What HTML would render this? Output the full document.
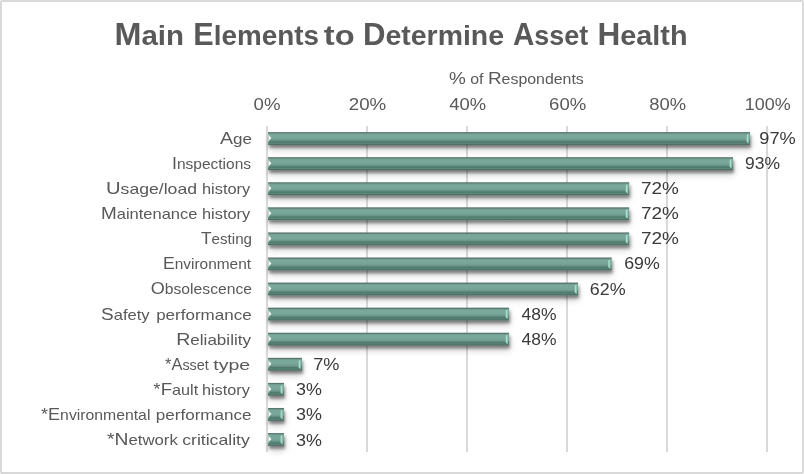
<!DOCTYPE html><html><head><meta charset="utf-8"><style>
html,body{margin:0;padding:0;background:#fff;}
svg{display:block;}
text{font-family:"Liberation Sans", "DejaVu Sans", sans-serif;}
</style></head><body>
<svg width="804" height="474" viewBox="0 0 804 474">
<defs>
<linearGradient id="bg" x1="0" y1="0" x2="0" y2="1">
 <stop offset="0" stop-color="#53706a"/>
 <stop offset="0.07" stop-color="#5a7a72"/>
 <stop offset="0.12" stop-color="#719a8d"/>
 <stop offset="0.22" stop-color="#7aa99b"/>
 <stop offset="0.45" stop-color="#78a799"/>
 <stop offset="0.6" stop-color="#6f9c8e"/>
 <stop offset="0.7" stop-color="#5d897b"/>
 <stop offset="0.76" stop-color="#4f796c"/>
 <stop offset="0.83" stop-color="#527d70"/>
 <stop offset="0.88" stop-color="#5e8a7d"/>
 <stop offset="0.93" stop-color="#4d7166"/>
 <stop offset="1" stop-color="#46665c"/>
</linearGradient>
<linearGradient id="rb" x1="0" y1="0" x2="1" y2="0">
 <stop offset="0" stop-color="#8ec2b2"/>
 <stop offset="0.3" stop-color="#b4e2d3"/>
 <stop offset="1" stop-color="#7fb4a4"/>
</linearGradient>
<filter id="sh" filterUnits="userSpaceOnUse" x="0" y="0" width="804" height="474">
 <feGaussianBlur in="SourceAlpha" stdDeviation="1.8" result="b1"/>
 <feOffset in="b1" dx="0.5" dy="2.6" result="o1"/>
 <feComponentTransfer in="o1" result="s1"><feFuncA type="linear" slope="0.42"/></feComponentTransfer>
 <feGaussianBlur in="SourceAlpha" stdDeviation="3.5" result="b2"/>
 <feOffset in="b2" dx="0.5" dy="4.5" result="o2"/>
 <feComponentTransfer in="o2" result="s2"><feFuncA type="linear" slope="0.18"/></feComponentTransfer>
 <feMerge><feMergeNode in="s2"/><feMergeNode in="s1"/><feMergeNode in="SourceGraphic"/></feMerge>
</filter>
</defs>
<rect x="1" y="1" width="802" height="472" rx="1" fill="#fff" stroke="#d9d9d9" stroke-width="2"/>
<rect x="266" y="126" width="2" height="326" fill="#d9d9d9"/>
<rect x="366" y="126" width="2" height="326" fill="#d9d9d9"/>
<rect x="466" y="126" width="2" height="326" fill="#d9d9d9"/>
<rect x="566" y="126" width="2" height="326" fill="#d9d9d9"/>
<rect x="666" y="126" width="2" height="326" fill="#d9d9d9"/>
<rect x="766" y="126" width="2" height="326" fill="#d9d9d9"/>
<g filter="url(#sh)"><rect x="268.0" y="132.10" width="482.0" height="12.8" fill="url(#bg)"/></g>
<polygon points="746.4,135.10 748.9,133.50 748.9,143.50 746.4,141.70" fill="url(#rb)"/>
<polygon points="268.0,133.30 269.2,134.50 269.2,141.70 268.0,142.90" fill="#9ccbbb" opacity="0.8"/>
<polygon points="268.6,135.10 271.4,138.10 268.6,141.10" fill="#fff"/>
<g filter="url(#sh)"><rect x="268.0" y="157.18" width="465.0" height="12.8" fill="url(#bg)"/></g>
<polygon points="729.4,160.18 731.9,158.58 731.9,168.58 729.4,166.78" fill="url(#rb)"/>
<polygon points="268.0,158.38 269.2,159.58 269.2,166.78 268.0,167.98" fill="#9ccbbb" opacity="0.8"/>
<polygon points="268.6,160.18 271.4,163.18 268.6,166.18" fill="#fff"/>
<g filter="url(#sh)"><rect x="268.0" y="182.26" width="361.2" height="12.8" fill="url(#bg)"/></g>
<polygon points="625.6,185.26 628.1,183.66 628.1,193.66 625.6,191.86" fill="url(#rb)"/>
<polygon points="268.0,183.46 269.2,184.66 269.2,191.86 268.0,193.06" fill="#9ccbbb" opacity="0.8"/>
<polygon points="268.6,185.26 271.4,188.26 268.6,191.26" fill="#fff"/>
<g filter="url(#sh)"><rect x="268.0" y="207.34" width="361.2" height="12.8" fill="url(#bg)"/></g>
<polygon points="625.6,210.34 628.1,208.74 628.1,218.74 625.6,216.94" fill="url(#rb)"/>
<polygon points="268.0,208.54 269.2,209.74 269.2,216.94 268.0,218.14" fill="#9ccbbb" opacity="0.8"/>
<polygon points="268.6,210.34 271.4,213.34 268.6,216.34" fill="#fff"/>
<g filter="url(#sh)"><rect x="268.0" y="232.42" width="361.2" height="12.8" fill="url(#bg)"/></g>
<polygon points="625.6,235.42 628.1,233.82 628.1,243.82 625.6,242.02" fill="url(#rb)"/>
<polygon points="268.0,233.62 269.2,234.82 269.2,242.02 268.0,243.22" fill="#9ccbbb" opacity="0.8"/>
<polygon points="268.6,235.42 271.4,238.42 268.6,241.42" fill="#fff"/>
<g filter="url(#sh)"><rect x="268.0" y="257.50" width="343.7" height="12.8" fill="url(#bg)"/></g>
<polygon points="608.1,260.50 610.6,258.90 610.6,268.90 608.1,267.10" fill="url(#rb)"/>
<polygon points="268.0,258.70 269.2,259.90 269.2,267.10 268.0,268.30" fill="#9ccbbb" opacity="0.8"/>
<polygon points="268.6,260.50 271.4,263.50 268.6,266.50" fill="#fff"/>
<g filter="url(#sh)"><rect x="268.0" y="282.58" width="310.1" height="12.8" fill="url(#bg)"/></g>
<polygon points="574.5,285.58 577.0,283.98 577.0,293.98 574.5,292.18" fill="url(#rb)"/>
<polygon points="268.0,283.78 269.2,284.98 269.2,292.18 268.0,293.38" fill="#9ccbbb" opacity="0.8"/>
<polygon points="268.6,285.58 271.4,288.58 268.6,291.58" fill="#fff"/>
<g filter="url(#sh)"><rect x="268.0" y="307.66" width="241.1" height="12.8" fill="url(#bg)"/></g>
<polygon points="505.5,310.66 508.0,309.06 508.0,319.06 505.5,317.26" fill="url(#rb)"/>
<polygon points="268.0,308.86 269.2,310.06 269.2,317.26 268.0,318.46" fill="#9ccbbb" opacity="0.8"/>
<polygon points="268.6,310.66 271.4,313.66 268.6,316.66" fill="#fff"/>
<g filter="url(#sh)"><rect x="268.0" y="332.74" width="241.1" height="12.8" fill="url(#bg)"/></g>
<polygon points="505.5,335.74 508.0,334.14 508.0,344.14 505.5,342.34" fill="url(#rb)"/>
<polygon points="268.0,333.94 269.2,335.14 269.2,342.34 268.0,343.54" fill="#9ccbbb" opacity="0.8"/>
<polygon points="268.6,335.74 271.4,338.74 268.6,341.74" fill="#fff"/>
<g filter="url(#sh)"><rect x="268.0" y="357.82" width="34.0" height="12.8" fill="url(#bg)"/></g>
<polygon points="298.4,360.82 300.9,359.22 300.9,369.22 298.4,367.42" fill="url(#rb)"/>
<polygon points="268.0,359.02 269.2,360.22 269.2,367.42 268.0,368.62" fill="#9ccbbb" opacity="0.8"/>
<polygon points="268.6,360.82 271.4,363.82 268.6,366.82" fill="#fff"/>
<g filter="url(#sh)"><rect x="268.0" y="382.90" width="16.0" height="12.8" fill="url(#bg)"/></g>
<polygon points="280.4,385.90 282.9,384.30 282.9,394.30 280.4,392.50" fill="url(#rb)"/>
<polygon points="268.0,384.10 269.2,385.30 269.2,392.50 268.0,393.70" fill="#9ccbbb" opacity="0.8"/>
<polygon points="268.6,385.90 271.4,388.90 268.6,391.90" fill="#fff"/>
<g filter="url(#sh)"><rect x="268.0" y="407.98" width="16.0" height="12.8" fill="url(#bg)"/></g>
<polygon points="280.4,410.98 282.9,409.38 282.9,419.38 280.4,417.58" fill="url(#rb)"/>
<polygon points="268.0,409.18 269.2,410.38 269.2,417.58 268.0,418.78" fill="#9ccbbb" opacity="0.8"/>
<polygon points="268.6,410.98 271.4,413.98 268.6,416.98" fill="#fff"/>
<g filter="url(#sh)"><rect x="268.0" y="433.06" width="16.0" height="12.8" fill="url(#bg)"/></g>
<polygon points="280.4,436.06 282.9,434.46 282.9,444.46 280.4,442.66" fill="url(#rb)"/>
<polygon points="268.0,434.26 269.2,435.46 269.2,442.66 268.0,443.86" fill="#9ccbbb" opacity="0.8"/>
<polygon points="268.6,436.06 271.4,439.06 268.6,442.06" fill="#fff"/>
<text x="114.52" y="45.40" font-size="27.8" font-weight="bold" fill="#595959" textLength="69.57" lengthAdjust="spacingAndGlyphs"><tspan font-size="30.5">M</tspan>ain</text>
<text x="193.35" y="45.40" font-size="27.8" font-weight="bold" fill="#595959" textLength="125.67" lengthAdjust="spacingAndGlyphs"><tspan font-size="30.5">E</tspan>lements</text>
<text x="323.78" y="45.40" font-size="27.8" font-weight="bold" fill="#595959" textLength="30.88" lengthAdjust="spacingAndGlyphs">to</text>
<text x="362.97" y="45.40" font-size="27.8" font-weight="bold" fill="#595959" textLength="141.05" lengthAdjust="spacingAndGlyphs"><tspan font-size="30.5">D</tspan>etermine</text>
<text x="512.98" y="45.40" font-size="27.8" font-weight="bold" fill="#595959" textLength="75.23" lengthAdjust="spacingAndGlyphs"><tspan font-size="30.5">A</tspan>sset</text>
<text x="597.54" y="45.40" font-size="27.8" font-weight="bold" fill="#595959" textLength="89.94" lengthAdjust="spacingAndGlyphs"><tspan font-size="30.5">H</tspan>ealth</text>
<text x="448.99" y="83.50" font-size="14.0" fill="#595959" textLength="134.82" lengthAdjust="spacingAndGlyphs"><tspan font-size="16.7">%</tspan> of <tspan font-size="16.7">R</tspan>espondents</text>
<text x="253.55" y="109.80" font-size="16.0" fill="#595959" textLength="26.90" lengthAdjust="spacingAndGlyphs">0%</text>
<text x="348.78" y="109.80" font-size="16.0" fill="#595959" textLength="37.46" lengthAdjust="spacingAndGlyphs">20%</text>
<text x="449.17" y="109.80" font-size="16.0" fill="#595959" textLength="36.86" lengthAdjust="spacingAndGlyphs">40%</text>
<text x="549.12" y="109.80" font-size="16.0" fill="#595959" textLength="37.12" lengthAdjust="spacingAndGlyphs">60%</text>
<text x="649.17" y="109.80" font-size="16.0" fill="#595959" textLength="36.86" lengthAdjust="spacingAndGlyphs">80%</text>
<text x="744.76" y="109.80" font-size="16.0" fill="#595959" textLength="45.85" lengthAdjust="spacingAndGlyphs">100%</text>
<text x="220.00" y="143.50" font-size="14.2" fill="#595959" textLength="32.03" lengthAdjust="spacingAndGlyphs"><tspan font-size="16.3">A</tspan>ge</text>
<text x="759.37" y="143.70" font-size="16.7" fill="#3a3a3a" textLength="36.46" lengthAdjust="spacingAndGlyphs">97%</text>
<text x="171.96" y="168.66" font-size="14.2" fill="#595959" textLength="79.04" lengthAdjust="spacingAndGlyphs"><tspan font-size="16.3">I</tspan>nspections</text>
<text x="744.98" y="168.85" font-size="16.7" fill="#3a3a3a" textLength="35.02" lengthAdjust="spacingAndGlyphs">93%</text>
<text x="105.98" y="193.81" font-size="14.2" fill="#595959" textLength="91.05" lengthAdjust="spacingAndGlyphs"><tspan font-size="16.3">U</tspan>sage/load</text>
<text x="201.98" y="193.81" font-size="14.2" fill="#595959" textLength="48.24" lengthAdjust="spacingAndGlyphs">history</text>
<text x="640.94" y="194.01" font-size="16.7" fill="#3a3a3a" textLength="37.92" lengthAdjust="spacingAndGlyphs">72%</text>
<text x="100.96" y="218.96" font-size="14.2" fill="#595959" textLength="96.46" lengthAdjust="spacingAndGlyphs"><tspan font-size="16.3">M</tspan>aintenance</text>
<text x="201.98" y="218.96" font-size="14.2" fill="#595959" textLength="48.24" lengthAdjust="spacingAndGlyphs">history</text>
<text x="640.94" y="219.16" font-size="16.7" fill="#3a3a3a" textLength="37.92" lengthAdjust="spacingAndGlyphs">72%</text>
<text x="201.00" y="244.12" font-size="14.2" fill="#595959" textLength="51.02" lengthAdjust="spacingAndGlyphs"><tspan font-size="16.3">T</tspan>esting</text>
<text x="640.94" y="244.32" font-size="16.7" fill="#3a3a3a" textLength="37.92" lengthAdjust="spacingAndGlyphs">72%</text>
<text x="162.99" y="269.27" font-size="14.2" fill="#595959" textLength="88.01" lengthAdjust="spacingAndGlyphs"><tspan font-size="16.3">E</tspan>nvironment</text>
<text x="624.19" y="269.47" font-size="16.7" fill="#3a3a3a" textLength="35.63" lengthAdjust="spacingAndGlyphs">69%</text>
<text x="150.79" y="294.43" font-size="14.2" fill="#595959" textLength="101.22" lengthAdjust="spacingAndGlyphs"><tspan font-size="16.3">O</tspan>bsolescence</text>
<text x="589.79" y="294.63" font-size="16.7" fill="#3a3a3a" textLength="35.84" lengthAdjust="spacingAndGlyphs">62%</text>
<text x="100.97" y="319.58" font-size="14.2" fill="#595959" textLength="48.64" lengthAdjust="spacingAndGlyphs"><tspan font-size="16.3">S</tspan>afety</text>
<text x="156.17" y="319.58" font-size="14.2" fill="#595959" textLength="95.44" lengthAdjust="spacingAndGlyphs">performance</text>
<text x="521.60" y="319.78" font-size="16.7" fill="#3a3a3a" textLength="35.02" lengthAdjust="spacingAndGlyphs">48%</text>
<text x="176.17" y="344.74" font-size="14.2" fill="#595959" textLength="74.83" lengthAdjust="spacingAndGlyphs"><tspan font-size="16.3">R</tspan>eliability</text>
<text x="521.60" y="344.94" font-size="16.7" fill="#3a3a3a" textLength="35.02" lengthAdjust="spacingAndGlyphs">48%</text>
<text x="164.98" y="369.89" font-size="14.2" fill="#595959" textLength="43.83" lengthAdjust="spacingAndGlyphs"><tspan font-size="16.3">*</tspan><tspan font-size="16.3">A</tspan>sset</text>
<text x="213.38" y="369.89" font-size="14.2" fill="#595959" textLength="36.84" lengthAdjust="spacingAndGlyphs">type</text>
<text x="313.16" y="370.09" font-size="16.7" fill="#3a3a3a" textLength="26.27" lengthAdjust="spacingAndGlyphs">7%</text>
<text x="153.39" y="395.05" font-size="14.2" fill="#595959" textLength="44.83" lengthAdjust="spacingAndGlyphs"><tspan font-size="16.3">*</tspan><tspan font-size="16.3">F</tspan>ault</text>
<text x="201.98" y="395.05" font-size="14.2" fill="#595959" textLength="47.85" lengthAdjust="spacingAndGlyphs">history</text>
<text x="295.93" y="395.25" font-size="16.7" fill="#3a3a3a" textLength="25.90" lengthAdjust="spacingAndGlyphs">3%</text>
<text x="41.00" y="420.20" font-size="14.2" fill="#595959" textLength="109.41" lengthAdjust="spacingAndGlyphs"><tspan font-size="16.3">*</tspan><tspan font-size="16.3">E</tspan>nvironmental</text>
<text x="155.77" y="420.20" font-size="14.2" fill="#595959" textLength="95.86" lengthAdjust="spacingAndGlyphs">performance</text>
<text x="295.93" y="420.40" font-size="16.7" fill="#3a3a3a" textLength="25.90" lengthAdjust="spacingAndGlyphs">3%</text>
<text x="106.99" y="445.36" font-size="14.2" fill="#595959" textLength="70.82" lengthAdjust="spacingAndGlyphs"><tspan font-size="16.3">*</tspan><tspan font-size="16.3">N</tspan>etwork</text>
<text x="182.19" y="445.36" font-size="14.2" fill="#595959" textLength="67.62" lengthAdjust="spacingAndGlyphs">criticality</text>
<text x="295.93" y="445.56" font-size="16.7" fill="#3a3a3a" textLength="25.90" lengthAdjust="spacingAndGlyphs">3%</text>
</svg></body></html>
